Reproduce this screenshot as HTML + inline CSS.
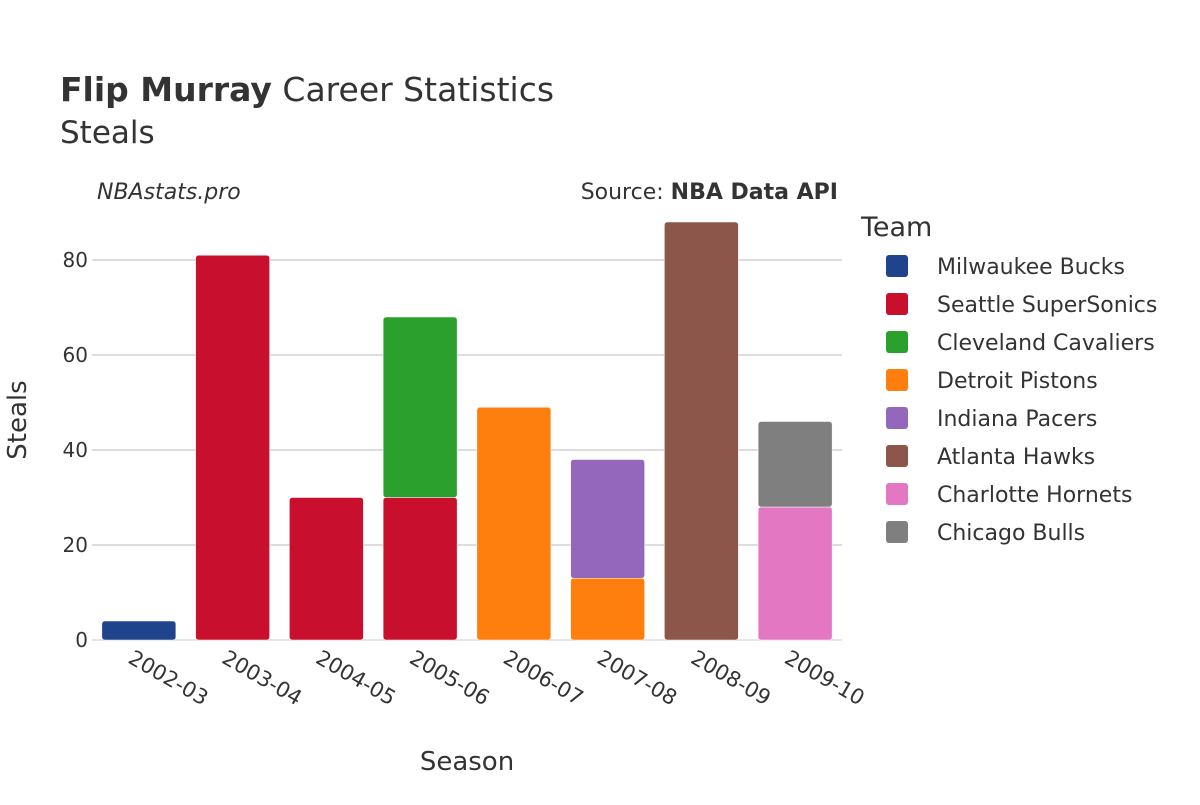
<!DOCTYPE html>
<html><head><meta charset="utf-8"><style>
body{margin:0;background:#fff;font-family:"Liberation Sans","DejaVu Sans",sans-serif}
svg text{font-family:"DejaVu Sans","Liberation Sans",sans-serif;fill:#333}
</style></head><body>
<svg width="1200" height="800" xmlns="http://www.w3.org/2000/svg">
<text x="60" y="101" font-size="33"><tspan font-weight="bold">Flip Murray</tspan> Career Statistics</text>
<text x="60" y="143" font-size="31">Steals</text>
<text x="97" y="199" font-size="22" font-style="italic">NBAstats.pro</text>
<text x="838" y="199" font-size="22" text-anchor="end">Source: <tspan font-weight="bold">NBA Data API</tspan></text>
<g id="grid"></g><g id="bars"></g><g id="xt"></g>
<text x="467" y="770" font-size="26" text-anchor="middle">Season</text>
<text transform="translate(26,420) rotate(-90)" font-size="26" text-anchor="middle">Steals</text>
<text x="861" y="236" font-size="27">Team</text>
<g id="legend"></g>
</svg>
<script>
const seasons=["2002-03","2003-04","2004-05","2005-06","2006-07","2007-08","2008-09","2009-10"];
const teams=["Milwaukee Bucks","Seattle SuperSonics","Cleveland Cavaliers","Detroit Pistons","Indiana Pacers","Atlanta Hawks","Charlotte Hornets","Chicago Bulls"];
const colors=["#1f448b","#c8102e","#2ca02c","#ff7f0e","#9467bd","#8c564b","#e377c2","#7f7f7f"];
const mil=[4,0,0,0,0,0,0,0];
const sea=[0,81,30,30,0,0,0,0];
const cle=[0,0,0,38,0,0,0,0];
const det=[0,0,0,0,49,13,0,0];
const ind=[0,0,0,0,0,25,0,0];
const atl=[0,0,0,0,0,0,88,0];
const cha=[0,0,0,0,0,0,0,28];
const chi=[0,0,0,0,0,0,0,18];
const yTicks=[0,20,40,60,80];
const series=[mil,sea,cle,det,ind,atl,cha,chi];
const NS="http://www.w3.org/2000/svg";
const x0=92,x1=842,y0=640,ppu=4.75;
const band=(x1-x0)/seasons.length,bw=74;
const y=v=>y0-v*ppu;
const xc=i=>x0+band*(i+0.5);
function mk(t,a,p){const e=document.createElementNS(NS,t);for(const k in a)e.setAttribute(k,a[k]);p.appendChild(e);return e;}
const G=document.getElementById('grid');
yTicks.forEach(v=>{
 const l=mk('line',{x1:x0,x2:x1,y1:y(v),y2:y(v),stroke:v===0?'#e6e6e6':'#bbb','stroke-width':v===0?2:1},G);
 
 
 const t=mk('text',{x:x0-4,y:y(v)+7,'font-size':20,'text-anchor':'end'},G);t.textContent=v;
 
 
});
const B=document.getElementById('bars');
seasons.forEach((s,i)=>{
 let base=0;
 series.forEach((ser,k)=>{
  const v=ser[i];if(!v)return;
  const r=mk('rect',{x:xc(i)-bw/2,y:y(base+v),width:bw,height:v*ppu,fill:colors[k],rx:3,stroke:'#fff','stroke-width':0.5},B);
  
  
  base+=v;
 });
 const t=mk('text',{transform:`translate(${xc(i)-12},${662}) rotate(30)`,'font-size':21},document.getElementById('xt'));
 t.textContent=s;
 
 
});
const L=document.getElementById('legend');
teams.forEach((tm,k)=>{
 const yy=266+k*38;
 const r=mk('rect',{x:886,y:yy-11,width:22,height:22,rx:3,fill:colors[k]},L);
 
 
 const t=mk('text',{x:937,y:yy+8,'font-size':22},L);t.textContent=tm;
 
 
});
</script>
</body></html>
